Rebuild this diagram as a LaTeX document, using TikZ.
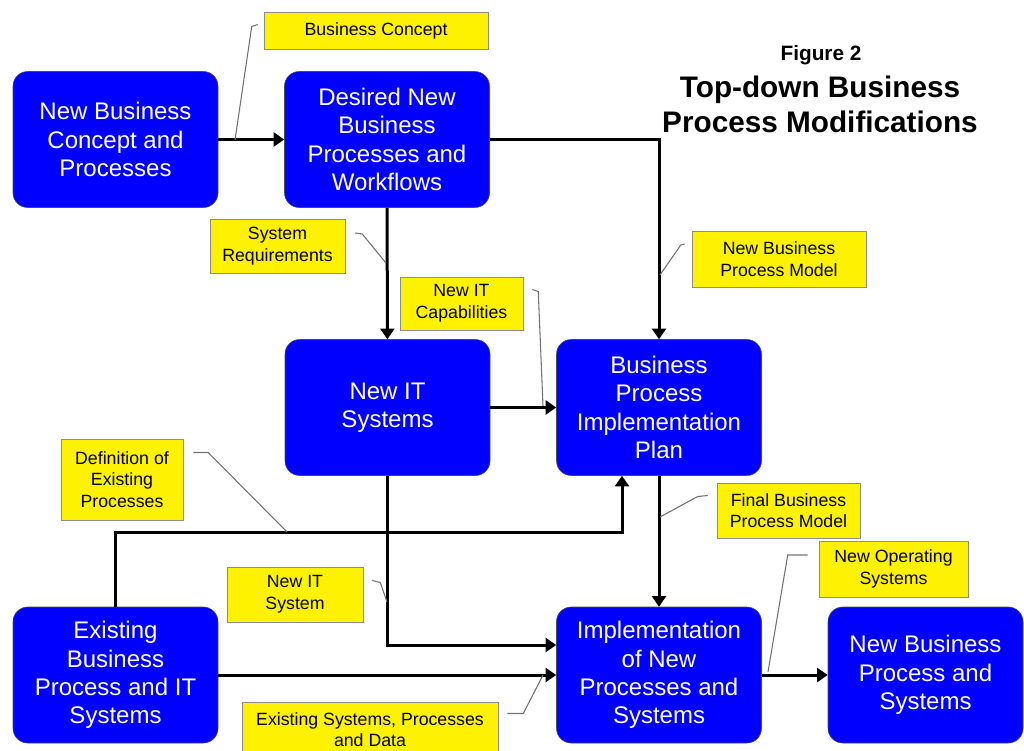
\documentclass[tikz,border=0pt]{standalone}
\usepackage{fontspec}
\setmainfont{Liberation Sans}
\usetikzlibrary{arrows.meta,calc}

\begin{document}
\begin{tikzpicture}[x=0.75pt,y=-0.75pt,
  blok/.style={draw=black!70,fill=blue,text=white,rounded corners=11pt,
    minimum width=153.75pt,minimum height=102pt,inner sep=0pt,align=center,
    font=\fontsize{18}{21.25}\selectfont},
  lbl/.style={draw=black!45,fill=yellow,inner sep=0pt,align=center,
    font=\fontsize{13.3}{16.25}\selectfont},
  flow/.style={line width=2.25pt,-{Triangle[length=8pt,width=10.5pt]}},
  callout/.style={draw=black!55,line width=0.8pt}]
  \useasboundingbox (0,0) rectangle (1024,750);

  % Title
  \node[font=\bfseries\fontsize{15.6}{18}\selectfont] (fig) at (821,55) {Figure 2};
  \node[font=\bfseries\fontsize{22.3}{26.25}\selectfont,align=center] (title) at (820,104)
    {Top-down Business\\Process Modifications};

  % Blue boxes
  \node[blok] (concept) at (115.5,139.5) {New Business\\Concept and\\Processes};
  \node[blok] (desired) at (387,139.5) {Desired New\\Business\\Processes and\\Workflows};
  \node[blok] (newit) at (387.5,407.5) {New IT\\Systems};
  \node[blok] (plan) at (659,407.5) {Business\\Process\\Implementation\\Plan};
  \node[blok] (existing) at (115.5,675) {Existing\\Business\\Process and IT\\Systems};
  \node[blok] (impl) at (659,675) {Implementation\\of New\\Processes and\\Systems};
  \node[blok,minimum width=146.25pt] (newbp) at (925.5,675) {New Business\\Process and\\Systems};

  % Yellow labels
  \node[lbl,minimum width=168pt,minimum height=27.75pt] (lconcept) at (376,30.5) {Business Concept};
  \node[lbl,minimum width=101.25pt,minimum height=40.5pt] (lsysreq) at (277.5,246) {System\\Requirements};
  \node[lbl,minimum width=92.25pt,minimum height=39.75pt] (litcap) at (461.5,303.5) {New IT\\Capabilities};
  \node[lbl,minimum width=130.5pt,minimum height=42pt] (lbpmodel) at (779,259) {New Business\\Process Model};
  \node[lbl,minimum width=91.5pt,minimum height=60.75pt] (ldefin) at (122,479.5) {Definition of\\Existing\\Processes};
  \node[lbl,minimum width=107.25pt,minimum height=41.25pt] (lfinal) at (788.5,510.5) {Final Business\\Process Model};
  \node[lbl,minimum width=111.75pt,minimum height=42pt] (lnewops) at (893.5,569) {New Operating\\Systems};
  \node[lbl,minimum width=102pt,minimum height=41.25pt] (lnewitsys) at (295,594.5) {New IT\\System};
  \node[lbl,minimum width=192pt,minimum height=41.25pt] (lexist) at (370,729.5) {Existing Systems, Processes\\and Data};

  % Flows
  \draw[flow] (concept) -- (desired);
  \draw[flow] (desired.east) -| (plan.north);
  \draw[flow] (desired) -- (newit);
  \draw[flow] (newit) -- (plan);
  \draw[flow] (plan) -- (impl);
  \draw[flow] (existing.north) -- ++(0,-74) -| ($(plan.south)+(-37,0)$);
  \draw[flow] (newit.south) |- ($(impl.west)+(0,-30)$);
  \draw[flow] (existing) -- (impl);
  \draw[flow] (impl) -- (newbp);

  % Callout lines
  \coordinate (k1) at (235,140);
  \coordinate (k2) at (386,263);
  \coordinate (k3) at (543,406);
  \coordinate (k4) at (660,275);
  \coordinate (k5) at (287,532);
  \coordinate (k6) at (660,517);
  \coordinate (k7) at (768,672);
  \coordinate (k8) at (387,602);
  \coordinate (k9) at (543,675);
  \draw[callout] ([shift={(-6,-6)}]lconcept.west) -- ++(-6,2) -- (k1);
  \draw[callout] ([shift={(10,-13)}]lsysreq.east) -- ++(7,1) -- (k2);
  \draw[callout] ([shift={(9,-14)}]litcap.east) -- ++(6,2) -- (k3);
  \draw[callout] ([shift={(-7,-15)}]lbpmodel.west) -- ++(-4,1) -- (k4);
  \draw[callout] ([shift={(10,-27)}]ldefin.east) -- ++(15,0) -- (k5);
  \draw[callout] ([shift={(-9,-15)}]lfinal.west) -- ++(-10,1) -- (k6);
  \draw[callout] ([shift={(-11,-14)}]lnewops.west) -- ++(-20,0) -- (k7);
  \draw[callout] ([shift={(9,-14)}]lnewitsys.east) -- ++(8,2) -- (k8);
  \draw[callout] ([shift={(9,-16)}]lexist.east) -- ++(16,0) -- (k9);
\end{tikzpicture}
\end{document}
